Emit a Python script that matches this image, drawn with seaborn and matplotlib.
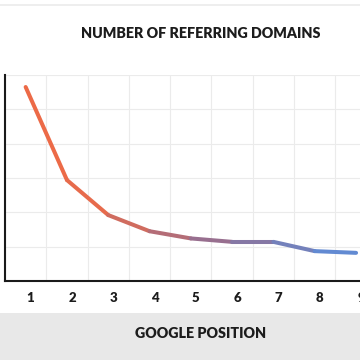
import numpy as np
import pandas as pd
import seaborn as sns
import matplotlib
matplotlib.use("Agg")
import matplotlib.pyplot as plt
from matplotlib.colors import LinearSegmentedColormap, to_hex
from matplotlib.transforms import ScaledTranslation
from matplotlib.patches import Rectangle
from matplotlib.lines import Line2D

# ---- data ----
positions = [1, 2, 3, 4, 5, 6, 7, 8, 9]
referring_domains = [5.65, 2.94, 1.92, 1.45, 1.24, 1.14, 1.14, 0.87, 0.82]
tick_labels = ["1", "2", "3", "4", "5", "6", "7", "8", "9"]
title_text = "NUMBER OF REFERRING DOMAINS"
xlabel_text = "GOOGLE POSITION"

sns.set_theme(style="white")
plt.rcParams["font.family"] = ["Lato", "DejaVu Sans"]

fig = plt.figure(figsize=(3.6, 3.6), dpi=100)
fig.patch.set_facecolor("white")

# bottom gray band and top thin line
fig.add_artist(Rectangle((0, 0), 1, 47 / 360, transform=fig.transFigure,
                         facecolor="#E8E8E8", edgecolor="none", zorder=0))
fig.add_artist(Line2D([0, 1], [1 - 5 / 360, 1 - 5 / 360], transform=fig.transFigure,
                      color="#EBEBEB", lw=1.2))

ax = fig.add_axes([5 / 360, 79 / 360, 413 / 360, 206 / 360])
ax.set_facecolor("white")

# gradient line: one segment per consecutive pair
cmap = LinearSegmentedColormap.from_list(
    "grad", [(0.0, "#EE6A45"), (0.22, "#E66B4D"), (0.55, "#9A6E8C"), (1.0, "#5A8EDC")])
rows = []
n = len(positions)
for i in range(n - 1):
    rows.append({"x": positions[i], "y": referring_domains[i], "seg": i})
    rows.append({"x": positions[i + 1], "y": referring_domains[i + 1], "seg": i})
df = pd.DataFrame(rows)
palette = [to_hex(cmap((i + 0.5) / (n - 1))) for i in range(n - 1)]
sns.lineplot(data=df, x="x", y="y", hue="seg", palette=palette, legend=False,
             lw=2.9, ax=ax, solid_capstyle="round", sort=False, zorder=3)

ax.set_xlim(0.5, 10.5)
ax.set_ylim(0, 6)
ax.set_xticks(positions)
ax.set_xticklabels(tick_labels, fontsize=9.5, fontweight="heavy", color="#1c1c1c")
ax.set_xticks(np.arange(0.5, 10.6, 0.5), minor=True)
ax.set_yticks(np.arange(0, 6.1, 1))
ax.set_yticklabels([])
ax.tick_params(axis="x", which="both", length=0, pad=8)
ax.tick_params(axis="y", which="both", length=0)
ax.grid(True, which="minor", axis="x", color="#EBEBEB", lw=0.8)
ax.grid(True, which="major", axis="y", color="#EBEBEB", lw=0.8)
ax.set_axisbelow(True)
for lab in ax.get_xticklabels():
    lab.set_transform(lab.get_transform() + ScaledTranslation(0.05, 0, fig.dpi_scale_trans))

for s in ["top", "right"]:
    ax.spines[s].set_visible(False)
for s in ["left", "bottom"]:
    ax.spines[s].set_color("#1a1a1a")
    ax.spines[s].set_linewidth(1.5)
ax.set_xlabel("")
ax.set_ylabel("")

fig.text(201 / 360, 1 - 33 / 360, title_text, ha="center", va="center",
         fontsize=10.3, fontweight="heavy", color="#1c1c1c")
fig.text(201 / 360, 1 - 334 / 360, xlabel_text, ha="center", va="center",
         fontsize=10.3, fontweight="heavy", color="#1c1c1c")

fig.savefig("out.png", dpi=100)
